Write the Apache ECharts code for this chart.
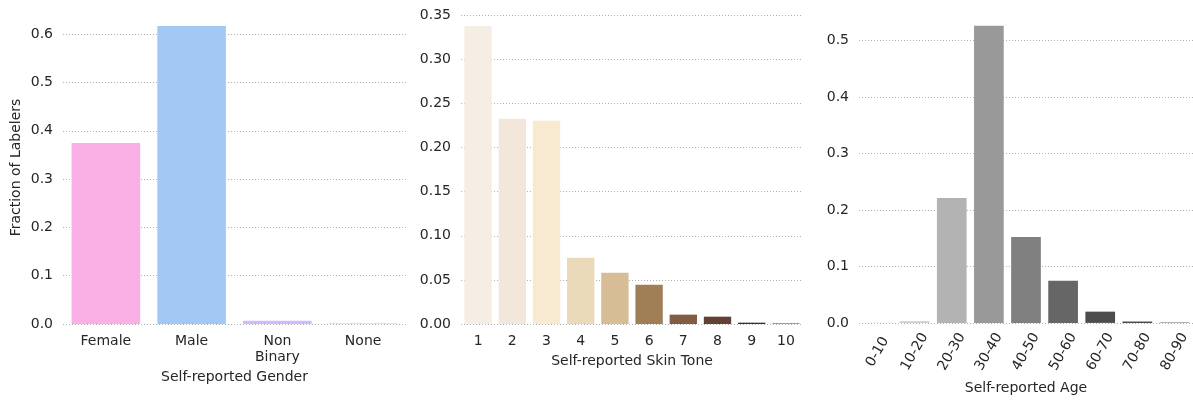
<!DOCTYPE html>
<html><head><meta charset="utf-8">
<script src="https://cdn.jsdelivr.net/npm/echarts@6/dist/echarts.min.js"></script>
<style>html,body{margin:0;padding:0;background:#fff}#c{width:1193px;height:400px}</style>
</head><body><div id="c"></div>
<script>
const genderCats = ['Female', 'Male', 'Non\nBinary', 'None'];
const genderVals = [0.3745, 0.617, 0.0065, 0.0012];
const genderColors = ['#fab0e4', '#a1c9f4', '#d0bbff', '#d0bbff'];

const toneCats = ['1','2','3','4','5','6','7','8','9','10'];
const toneVals = [0.338, 0.2328, 0.2305, 0.0752, 0.0582, 0.0446, 0.0106, 0.0083, 0.0015, 0.0005];
const toneColors = ['#f6ede4','#f3e7db','#f7ead0','#eadaba','#d7bd96','#a07e56','#825c43','#604134','#3a312a','#292420'];

const ageCats = ['0-10','10-20','20-30','30-40','40-50','50-60','60-70','70-80','80-90'];
const ageVals = [0.0004, 0.003, 0.221, 0.526, 0.152, 0.0746, 0.0199, 0.0023, 0.0006];
const ageColors = ['#e0e0e0','#cccccc','#b3b3b3','#999999','#808080','#666666','#4d4d4d','#333333','#1a1a1a'];

const FONT = 'DejaVu Sans';
const TXT = '#262626';
const chart = echarts.init(document.getElementById('c'));

function yAx(idx, max, interval, fmtDigits, name) {
  return {
    type: 'value', gridIndex: idx, min: 0, max: max, interval: interval,
    name: name || '', nameLocation: 'middle', nameGap: 40,
    nameTextStyle: {fontFamily: FONT, fontSize: 14, color: TXT},
    axisLine: {show: false}, axisTick: {show: false},
    axisLabel: {fontFamily: FONT, fontSize: 14, color: TXT, margin: 10, showMaxLabel: false,
      formatter: v => v.toFixed(fmtDigits)},
    splitLine: {show: true, showMaxLine: false, lineStyle: {type: [1, 2], color: '#b0b0b0', width: 1}}
  };
}
function xAx(idx, cats, name, gap, rotate) {
  const lab = {fontFamily: FONT, fontSize: 14, color: TXT, margin: 9, rotate: rotate || 0, interval: 0, lineHeight: 16};
  if (rotate) { lab.align = 'center'; lab.verticalAlign = 'middle'; lab.margin = 29; }
  return {
    type: 'category', gridIndex: idx, data: cats,
    name: name, nameLocation: 'middle', nameGap: gap,
    nameTextStyle: {fontFamily: FONT, fontSize: 14, color: TXT},
    axisLine: {show: false}, axisTick: {show: false},
    axisLabel: lab
  };
}
function ser(idx, vals, colors) {
  return {
    type: 'bar', xAxisIndex: idx, yAxisIndex: idx, barCategoryGap: '20%',
    data: vals.map((v, i) => ({value: v, itemStyle: {color: colors[i]}})),
    silent: true
  };
}

chart.setOption({
  animation: false,
  grid: [
    {left: 63, width: 343, top: 11, bottom: 76},
    {left: 461, width: 342, top: 11, bottom: 76},
    {left: 859, width: 345, top: 11, bottom: 76}
  ],
  xAxis: [
    xAx(0, genderCats, 'Self-reported Gender', 45),
    xAx(1, toneCats, 'Self-reported Skin Tone', 29),
    xAx(2, ageCats, 'Self-reported Age', 58, 60)
  ],
  yAxis: [
    yAx(0, 0.648, 0.1, 1, 'Fraction of Labelers'),
    yAx(1, 0.355, 0.05, 2),
    yAx(2, 0.552, 0.1, 1)
  ],
  series: [
    ser(0, genderVals, genderColors),
    ser(1, toneVals, toneColors),
    ser(2, ageVals, ageColors)
  ]
});
</script></body></html>
